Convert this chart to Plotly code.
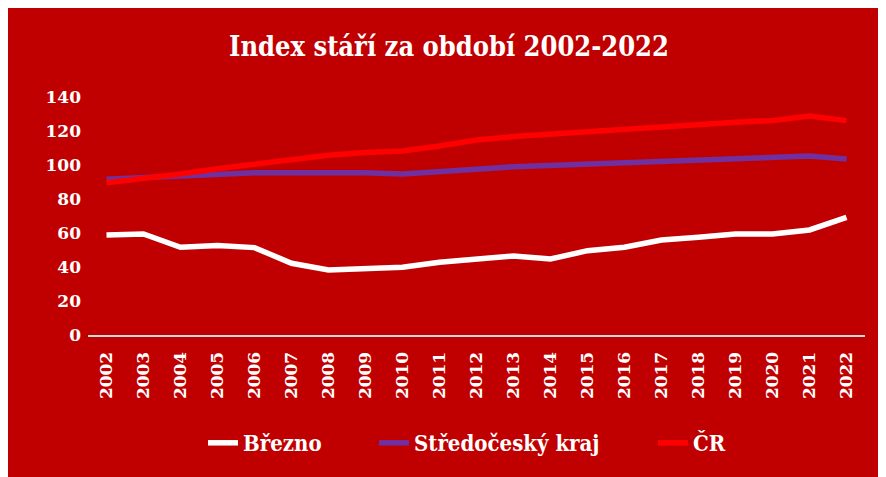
import plotly.graph_objects as go

# data
years = [str(y) for y in range(2002, 2023)]
brezno = [58.8, 59.4, 51.6, 52.6, 51.4, 42.2, 38.2, 39.2, 39.8, 42.8, 44.9,
          46.5, 44.7, 49.6, 51.6, 55.9, 57.5, 59.4, 59.4, 61.8, 69.2]
stredocesky = [91.6, 92.7, 93.1, 94.5, 95.5, 95.5, 95.7, 95.5, 94.7, 95.7, 97.5,
               99.0, 99.8, 100.6, 101.4, 102.6, 103.0, 104.0, 104.3, 105.3, 103.5]
cr = [89.6, 92.0, 94.7, 97.8, 100.6, 103.3, 105.7, 107.4, 108.2, 111.2, 114.7,
      116.7, 118.2, 119.6, 121.0, 122.5, 123.5, 125.1, 126.1, 128.8, 126.1]
y_ticks = [0, 20, 40, 60, 80, 100, 120, 140]

BG = "#C00000"
FONT = "DejaVu Serif"
COND = "DejaVu Serif Condensed, " + FONT

fig = go.Figure()
series = [("Březno", brezno, "#FFFFFF", "legend"),
          ("Středočeský kraj", stredocesky, "#7030A0", "legend2"),
          ("ČR", cr, "#FF0000", "legend3")]
for name, vals, col, leg in series:
    fig.add_trace(go.Scatter(x=years, y=vals, name=name, mode="lines",
                             line=dict(color=col, width=5.5), legend=leg))

# one legend box per entry so the spacing follows the original
def legend_at(x_px):
    return dict(orientation="h", xref="container", yref="container",
                x=x_px / 886, xanchor="left", y=1 - 435 / 477, yanchor="middle",
                font=dict(family=COND, size=22, color="white", weight="bold"),
                bgcolor="rgba(0,0,0,0)", itemwidth=30)

fig.update_layout(
    width=886, height=477,
    margin=dict(l=80, r=29, t=89, b=150),
    paper_bgcolor=BG,
    plot_bgcolor=BG,
    title=dict(text="<b>Index stáří za období 2002-2022</b>",
               font=dict(family=COND, size=27, color="white"),
               x=441 / 886, xref="container", xanchor="center",
               y=1 - 39 / 477, yanchor="middle"),
    font=dict(family=FONT, color="white"),
    showlegend=True,
    legend=legend_at(195),
    legend2=legend_at(366),
    legend3=legend_at(645),
)
fig.update_xaxes(type="category", range=[-0.5, 20.5], showgrid=False,
                 showline=True, linecolor="#D9D9D9", linewidth=2,
                 tickangle=-90, ticks="",
                 tickfont=dict(family=FONT, size=17, color="white", weight="bold"),
                 ticklabelstandoff=8)
fig.update_yaxes(range=[0, 140], tickvals=y_ticks, showgrid=False,
                 zeroline=False, showline=False, ticks="",
                 tickfont=dict(family=FONT, size=17, color="white", weight="bold"),
                 ticklabelstandoff=6)
fig.update_traces(hoverinfo="x+y+name")

fig.write_html("out.html")
